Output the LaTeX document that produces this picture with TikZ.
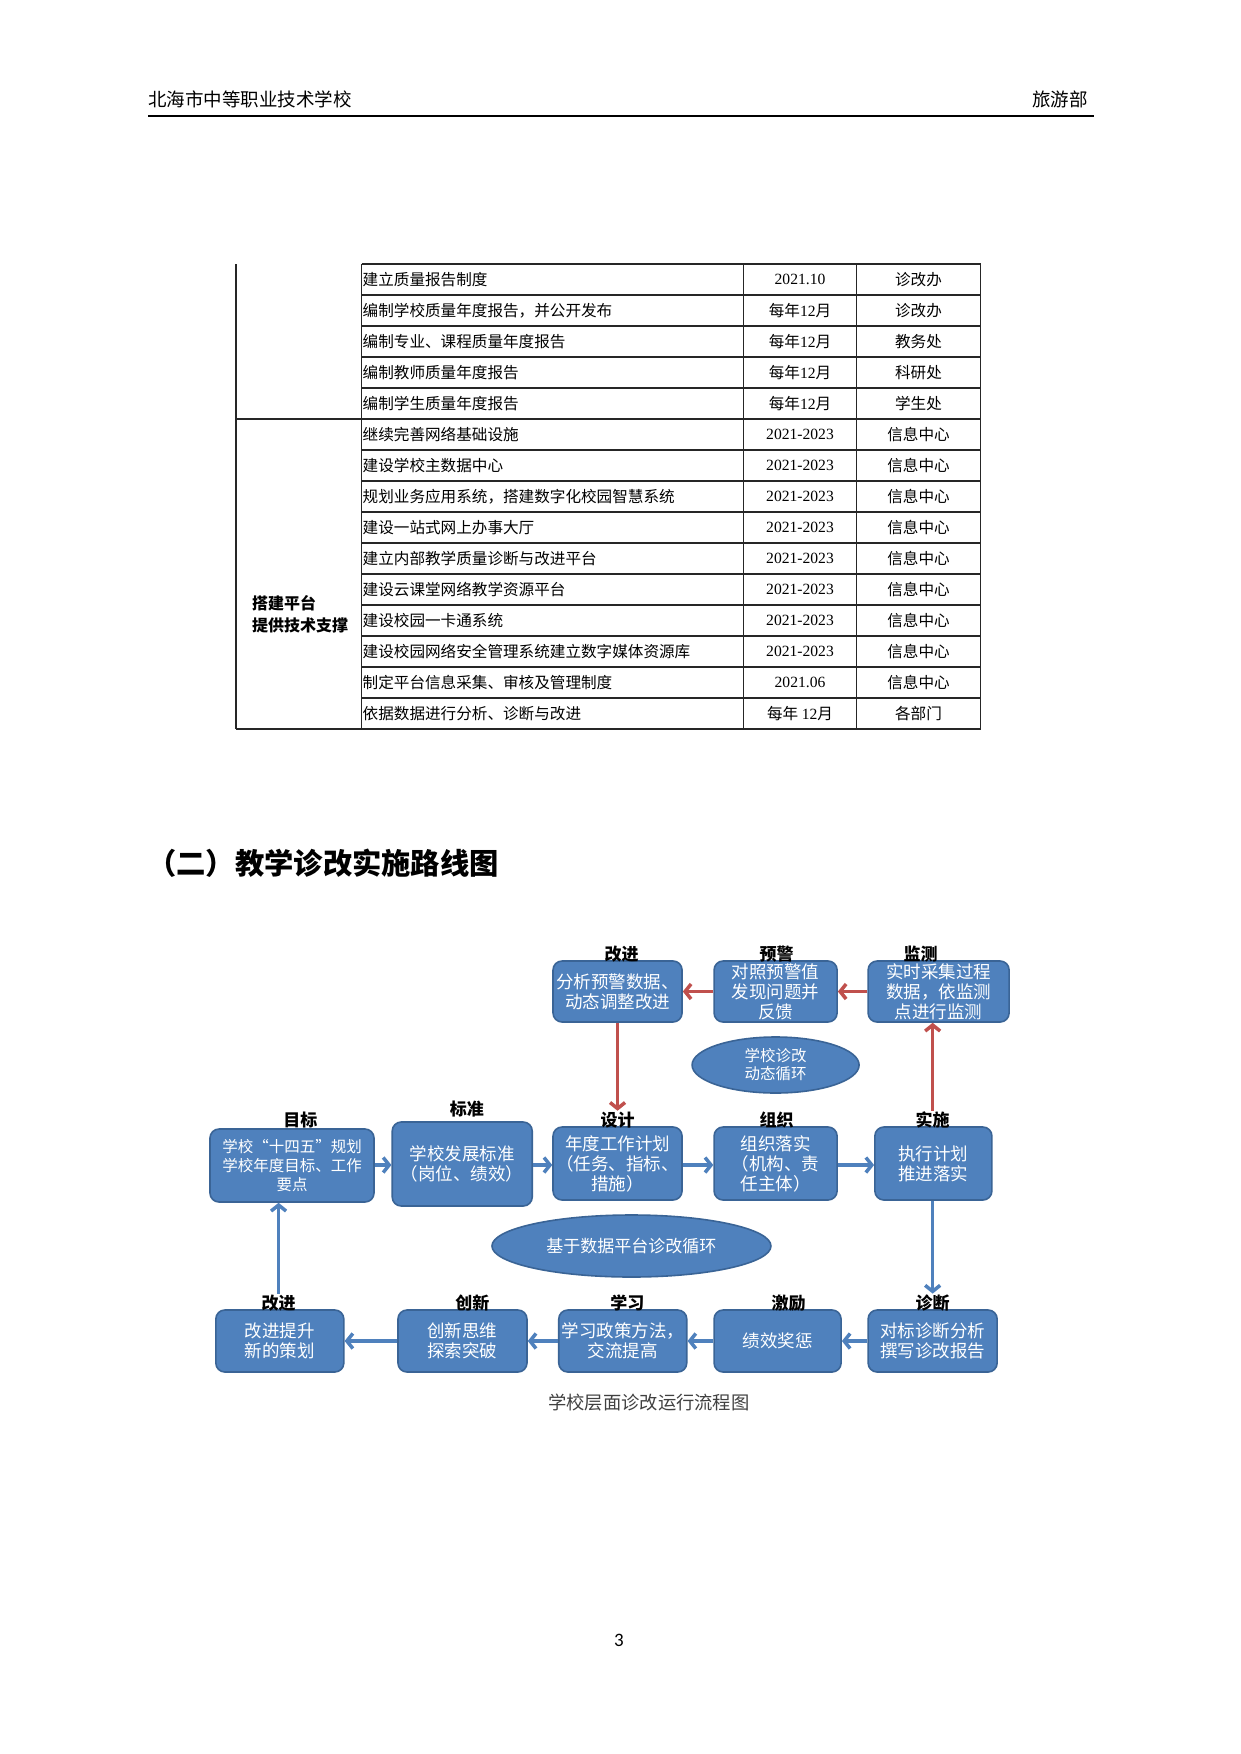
\documentclass[tikz,border=0pt]{standalone}
\usepackage{fontspec}
\setmainfont{Noto Sans CJK SC}
\newfontfamily\lat{Liberation Serif}
\newfontfamily\pgnum{Carlito}
\usetikzlibrary{arrows.meta,shapes.geometric}
\definecolor{boxblue}{HTML}{4F81BD}
\definecolor{boxedge}{HTML}{3A6496}
\definecolor{arrred}{HTML}{C0504D}
\definecolor{arrblue}{HTML}{4F81BD}
\begin{document}
\begin{tikzpicture}[x=1pt,y=-1pt,
  box/.style={draw=boxedge, line width=1.6pt, fill=boxblue, rounded corners=9pt, text=white, align=center, inner sep=1pt, font=\fontsize{17.5}{20}\selectfont},
  oval/.style={ellipse, draw=boxedge, line width=1.6pt, fill=boxblue, text=white, align=center, inner sep=0pt, font=\fontsize{17}{19}\selectfont},
  lbl/.style={font=\fontsize{17}{17}\bfseries\selectfont, inner sep=1pt},
  redarr/.style={draw=arrred, line width=3.5pt, -{Straight Barb[length=6pt,width=15pt]}},
  bluearr/.style={draw=arrblue, line width=3.5pt, -{Straight Barb[length=6pt,width=15pt]}},
  tbl/.style={draw=black!85, line width=1.1pt},
  tcell/.style={inner sep=1pt, font=\fontsize{15.6}{17}\selectfont}
]
\fill[white] (0,0) rectangle (1240,1754);
\useasboundingbox (0,0) rectangle (1240,1754);

% header
\node[anchor=base west, inner sep=0pt, font=\fontsize{18.5}{19}\selectfont] (hl) at (148,106.5) {北海市中等职业技术学校};
\node[anchor=base east, inner sep=0pt, font=\fontsize{18.5}{19}\selectfont] (hr) at (1088,106.5) {旅游部};
\draw[line width=2.5pt] (148,116) -- (1094,116);

% table lines
\foreach \xx in {236,361.5,743.5,856.5,980.5} \draw[tbl] (\xx,264) -- (\xx,729);
\draw[tbl] (361.5,264) -- (980.5,264);
\foreach \k in {1,2,3,4,6,7,8,9,10,11,12,13,14} \draw[tbl] (361.5,{264+31*\k}) -- (980.5,{264+31*\k});
\draw[tbl] (236,419) -- (980.5,419);
\draw[tbl] (236,729) -- (980.5,729);

% table texts
\foreach \t/\d/\o [count=\i] in {
  建立质量报告制度/{\lat 2021.10}/诊改办,
  编制学校质量年度报告，并公开发布/{每年\lat 12\rmfamily 月}/诊改办,
  编制专业、课程质量年度报告/{每年\lat 12\rmfamily 月}/教务处,
  编制教师质量年度报告/{每年\lat 12\rmfamily 月}/科研处,
  编制学生质量年度报告/{每年\lat 12\rmfamily 月}/学生处,
  继续完善网络基础设施/{\lat 2021-2023}/信息中心,
  建设学校主数据中心/{\lat 2021-2023}/信息中心,
  规划业务应用系统，搭建数字化校园智慧系统/{\lat 2021-2023}/信息中心,
  建设一站式网上办事大厅/{\lat 2021-2023}/信息中心,
  建立内部教学质量诊断与改进平台/{\lat 2021-2023}/信息中心,
  建设云课堂网络教学资源平台/{\lat 2021-2023}/信息中心,
  建设校园一卡通系统/{\lat 2021-2023}/信息中心,
  建设校园网络安全管理系统建立数字媒体资源库/{\lat 2021-2023}/信息中心,
  制定平台信息采集、审核及管理制度/{\lat 2021.06}/信息中心,
  依据数据进行分析、诊断与改进/{每年 \lat 12\rmfamily 月}/各部门}
{
  \node[tcell, anchor=west] (ta\i) at (361.5,{264+31*(\i-0.5)}) {\t};
  \node[tcell] (tb\i) at (800,{264+31*(\i-0.5)}) {\d};
  \node[tcell] (tc\i) at (918.5,{264+31*(\i-0.5)}) {\o};
}
\node[anchor=west, align=left, inner sep=0pt, font=\fontsize{16}{22}\bfseries\selectfont] (grp) at (252,614) {搭建平台\\提供技术支撑};

% section heading
\node[anchor=base west, inner sep=0pt, font=\fontsize{29.3}{29.3}\bfseries\selectfont] (heading) at (147,874) {（二）教学诊改实施路线图};

\begin{scope}[x=0.994pt, xshift=1.26pt]
% top row
\node[box, minimum width=129pt, minimum height=61pt] (gj1) at (620,991.5) {分析预警数据、\\动态调整改进};
\node[box, minimum width=123pt, minimum height=61pt] (yj) at (779,991.5) {对照预警值\\发现问题并\\反馈};
\node[box, minimum width=141pt, minimum height=61pt] (jc) at (943,991.5) {实时采集过程\\数据，依监测\\点进行监测};
\node[lbl] (l-gj1) at (624,954) {改进};
\node[lbl] (l-yj) at (780,954) {预警};
\node[lbl] (l-jc) at (925,954) {监测};

\node[oval, minimum width=167pt, minimum height=56pt, font=\fontsize{15.5}{18}\selectfont] (e1) at (779,1065) {学校诊改\\动态循环};

% middle row
\node[box, minimum width=164pt, minimum height=73pt, font=\fontsize{15.5}{19}\selectfont] (mb) at (292.5,1165.5) {学校“十四五”规划\\学校年度目标、工作\\要点};
\node[box, minimum width=140pt, minimum height=84pt] (bz) at (463.75,1164) {学校发展标准\\（岗位、绩效）};
\node[box, minimum width=129pt, minimum height=73pt] (sj) at (620,1163.5) {年度工作计划\\（任务、指标、\\措施）};
\node[box, minimum width=123pt, minimum height=73pt] (zz) at (779,1163.5) {组织落实\\（机构、责\\任主体）};
\node[box, minimum width=117pt, minimum height=73pt] (ss) at (937.75,1163.5) {执行计划\\推进落实};
\node[lbl] (l-mb) at (301,1120) {目标};
\node[lbl] (l-bz) at (468.5,1109) {标准};
\node[lbl] (l-sj) at (620,1120) {设计};
\node[lbl] (l-zz) at (780,1120) {组织};
\node[lbl] (l-ss) at (937,1120) {实施};

\node[oval, minimum width=279pt, minimum height=62pt] (e2) at (634,1246) {基于数据平台诊改循环};

% bottom row
\node[box, minimum width=128pt, minimum height=62pt] (gj2) at (280.25,1341) {改进提升\\新的策划};
\node[box, minimum width=129pt, minimum height=62pt] (cx) at (464,1341) {创新思维\\探索突破};
\node[box, minimum width=128pt, minimum height=62pt] (xx) at (625.25,1341) {学习政策方法，\\交流提高};
\node[box, minimum width=127pt, minimum height=62pt] (jl) at (781,1341) {绩效奖惩};
\node[box, minimum width=129pt, minimum height=62pt] (zd) at (937,1341) {对标诊断分析\\撰写诊改报告};
\node[lbl] (l-gj2) at (279,1303) {改进};
\node[lbl] (l-cx) at (474,1303) {创新};
\node[lbl] (l-xx) at (630,1303) {学习};
\node[lbl] (l-jl) at (792,1303) {激励};
\node[lbl] (l-zd) at (937,1303) {诊断};

% red arrows
\draw[redarr] (yj.west) -- (gj1.east);
\draw[redarr] (jc.west) -- (yj.east);
\draw[redarr] (gj1.south) -- (l-sj.north);
\draw[redarr] (l-ss.north) -- (l-ss.north |- jc.south);

% blue arrows
\draw[bluearr] (mb.east |- 0,1165) -- (bz.west |- 0,1165);
\draw[bluearr] (bz.east |- 0,1165) -- (sj.west |- 0,1165);
\draw[bluearr] (sj.east |- 0,1165) -- (zz.west |- 0,1165);
\draw[bluearr] (zz.east |- 0,1165) -- (ss.west |- 0,1165);
\draw[bluearr] (ss.south -| l-zd.north) -- (l-zd.north);
\draw[bluearr] (zd.west) -- (jl.east);
\draw[bluearr] (jl.west) -- (xx.east);
\draw[bluearr] (xx.west) -- (cx.east);
\draw[bluearr] (cx.west) -- (gj2.east);
\draw[bluearr] (l-gj2.north) -- (l-gj2.north |- mb.south);

% caption
\node[font=\fontsize{18.3}{18}\selectfont, text=black!75, inner sep=0pt] (cap) at (651.5,1403) {学校层面诊改运行流程图};
\end{scope}

% page number
\node[font=\pgnum\fontsize{19}{19}\selectfont, inner sep=0pt] (pg) at (619,1640) {3};
\end{tikzpicture}
\end{document}
